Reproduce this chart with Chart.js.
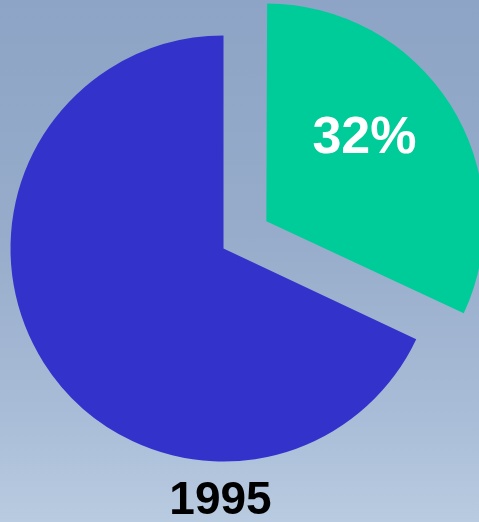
<!DOCTYPE html>
<html>
<head>
<meta charset="utf-8">
<script src="https://cdn.jsdelivr.net/npm/chart.js@4"></script>
<style>
  html, body {
    margin: 0;
    padding: 0;
    width: 479px;
    height: 522px;
    overflow: hidden;
    background: linear-gradient(to bottom, #8da4c6 0%, #97acca 45%, #a9bdd8 80%, #b9cbe0 100%);
    font-family: "Liberation Sans", Arial, sans-serif;
  }
  #wrap {
    position: absolute;
    left: -91px;
    top: -66px;
    width: 629px;
    height: 629px;
  }
  #year {
    position: absolute;
    left: 0;
    width: 441px;
    top: 472px;
    text-align: center;
    font-size: 46px;
    font-weight: bold;
    color: #000;
    line-height: 52px;
  }
</style>
</head>
<body>
<div id="wrap"><canvas id="pie"></canvas></div>
<div id="year">1995</div>
<script>
  // Données du graphique
  const labels = ['Part', 'Reste'];
  const values = [32, 68];
  const colors = ['#00cc99', '#3333cc'];
  // Chart.js v4 décale l'arc d'environ offset / 4 pixels
  const offsets = [203, 0];

  // Étiquette en pourcentage dans la part détachée
  const percentLabel = {
    id: 'percentLabel',
    afterDatasetsDraw(chart) {
      const ctx = chart.ctx;
      const arc = chart.getDatasetMeta(0).data[0];
      const p = arc.getProps(['x', 'y', 'startAngle', 'endAngle', 'outerRadius', 'circumference']);
      const fix = 1 - Math.sin(Math.min(Math.PI, p.circumference));
      const shift = offsets[0] / 4 * (1 + fix);
      const mid = (p.startAngle + p.endAngle) / 2;
      const a = p.startAngle + (p.endAngle - p.startAngle) * 0.43;
      const r = p.outerRadius * 0.58;
      const cx = p.x + Math.cos(mid) * shift + Math.cos(a) * r;
      const cy = p.y + Math.sin(mid) * shift + Math.sin(a) * r;
      ctx.save();
      ctx.fillStyle = '#ffffff';
      ctx.font = 'bold 52px "Liberation Sans", Arial, sans-serif';
      ctx.textAlign = 'center';
      ctx.textBaseline = 'middle';
      ctx.fillText(values[0] + '%', cx, cy);
      ctx.restore();
    }
  };

  new Chart(document.getElementById('pie'), {
    type: 'pie',
    data: {
      labels: labels,
      datasets: [{
        data: values,
        backgroundColor: colors,
        borderWidth: 0,
        offset: offsets
      }]
    },
    options: {
      responsive: true,
      maintainAspectRatio: false,
      animation: false,
      layout: { padding: 0 },
      plugins: {
        legend: { display: false },
        tooltip: { enabled: false }
      }
    },
    plugins: [percentLabel]
  });
</script>
</body>
</html>
